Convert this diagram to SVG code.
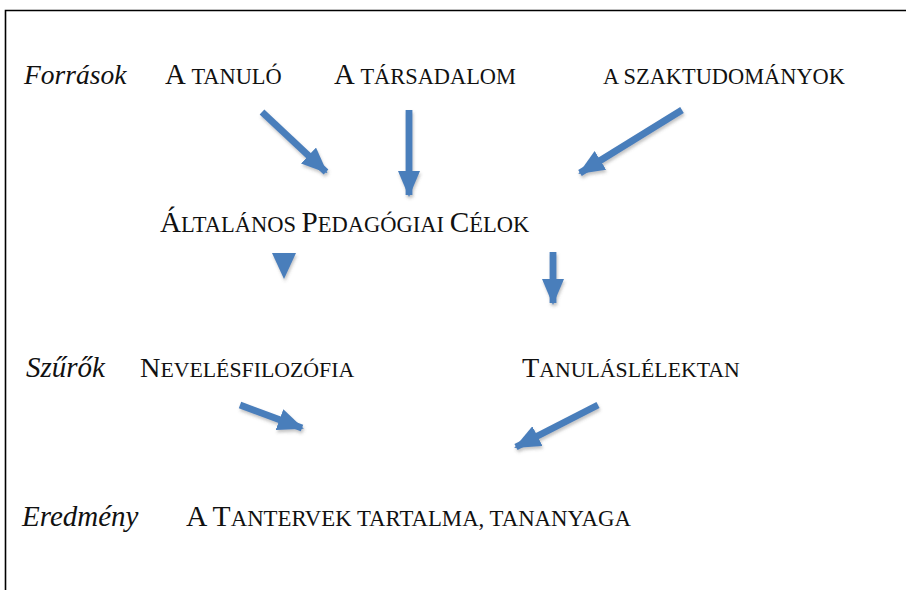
<svg xmlns="http://www.w3.org/2000/svg" width="906" height="590" viewBox="0 0 906 590">
  <style>
    text { font-family: "Liberation Serif", "Times New Roman", serif; fill: #111; }
    .lbl { font-style: italic; font-size: 27.5px; }
    .big { font-size: 28.3px; }
    .sm { font-size: 21.8px; }
    .l1 .big { font-size: 28.8px; }
    .l1 .sm { font-size: 22.4px; }
    .l2 .big { font-size: 29.2px; }
    .l2 .sm { font-size: 22.5px; }
    .l4 .big { font-size: 29.6px; }
    .l4 .sm { font-size: 22.8px; }
    .frame { stroke: #000; stroke-width: 1.6; fill: none; }
    .shaft { stroke: #4a7ebb; stroke-width: 6.8; fill: none; }
    .head { fill: #4a7ebb; }
  </style>
  <defs>
    <filter id="shadow" x="-30%" y="-30%" width="160%" height="160%">
      <feDropShadow dx="1" dy="2.5" stdDeviation="1.6" flood-color="#555" flood-opacity="0.35"/>
    </filter>
    <marker id="arrowhead" viewBox="0 0 26 22" refX="24" refY="11" markerWidth="26" markerHeight="22" markerUnits="userSpaceOnUse" orient="auto">
      <path class="head" d="M0,0 L26,11 L0,22 Z"/>
    </marker>
  </defs>

  <rect width="906" height="590" fill="#fff"/>

  <!-- page frame: top and left edges -->
  <path class="frame" d="M5.5,590 V10.5 H906"/>

  <!-- row labels -->
  <g id="label-forrasok"><text class="lbl" x="24" y="84">Források</text></g>
  <g id="label-szurok"><text class="lbl" x="26" y="377" style="font-size:29px">Szűrők</text></g>
  <g id="label-eredmeny"><text class="lbl" x="22" y="526" style="font-size:29px">Eredmény</text></g>

  <!-- sources -->
  <g id="node-tanulo" class="l1">
    <text x="165" y="84"><tspan class="big">A </tspan><tspan class="sm">TANULÓ</tspan></text>
  </g>
  <g id="node-tarsadalom" class="l1">
    <text x="334" y="84"><tspan class="big">A </tspan><tspan class="sm">TÁRSADALOM</tspan></text>
  </g>
  <g id="node-szaktudomanyok" class="l1">
    <text x="603" y="84"><tspan class="sm">A SZAKTUDOMÁNYOK</tspan></text>
  </g>

  <!-- general aims -->
  <g id="node-celok" class="l2">
    <text x="160" y="232"><tspan class="big">Á</tspan><tspan class="sm">LTALÁNOS </tspan><tspan class="big">P</tspan><tspan class="sm">EDAGÓGIAI </tspan><tspan class="big">C</tspan><tspan class="sm">ÉLOK</tspan></text>
  </g>

  <!-- filters -->
  <g id="node-nevelesfilozofia">
    <text x="140" y="377"><tspan class="big">N</tspan><tspan class="sm">EVELÉSFILOZÓFIA</tspan></text>
  </g>
  <g id="node-tanulaslelektan">
    <text x="522" y="377"><tspan class="big">T</tspan><tspan class="sm">ANULÁSLÉLEKTAN</tspan></text>
  </g>

  <!-- result -->
  <g id="node-tanterv" class="l4">
    <text x="186" y="526"><tspan class="big">A T</tspan><tspan class="sm">ANTERVEK TARTALMA, TANANYAGA</tspan></text>
  </g>

  <!-- connectors -->
  <g id="connectors" filter="url(#shadow)">
    <line class="shaft" x1="262" y1="112" x2="326" y2="172" marker-end="url(#arrowhead)"/>
    <line class="shaft" x1="409" y1="110" x2="409" y2="195" marker-end="url(#arrowhead)"/>
    <line class="shaft" x1="682" y1="110" x2="580" y2="173" marker-end="url(#arrowhead)"/>
    <path class="head" d="M272,253 L296,253 L284,279 Z"/>
    <line class="shaft" x1="553" y1="252" x2="553" y2="303" marker-end="url(#arrowhead)"/>
    <line class="shaft" x1="240" y1="405" x2="302" y2="428" marker-end="url(#arrowhead)"/>
    <line class="shaft" x1="598" y1="405" x2="516" y2="447" marker-end="url(#arrowhead)"/>
  </g>
</svg>
